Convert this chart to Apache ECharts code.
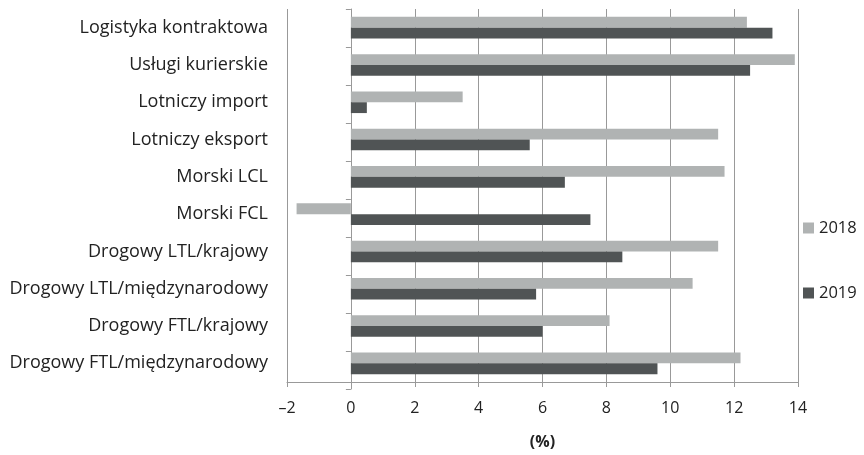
<!DOCTYPE html>
<html><head><meta charset="utf-8">
<script src="https://cdn.jsdelivr.net/npm/echarts@6/dist/echarts.min.js"></script>
<style>html,body{margin:0;padding:0;background:#fff}#c{width:864px;height:455px}</style>
</head><body><div id="c"></div>
<script>
const categories = ["Logistyka kontraktowa","Usługi kurierskie","Lotniczy import","Lotniczy eksport","Morski LCL","Morski FCL","Drogowy LTL/krajowy","Drogowy LTL/międzynarodowy","Drogowy FTL/krajowy","Drogowy FTL/międzynarodowy"];
const values2018 = [12.4, 13.9, 3.5, 11.5, 11.7, -1.7, 11.5, 10.7, 8.1, 12.2];
const values2019 = [13.2, 12.5, 0.5, 5.6, 6.7, 7.5, 8.5, 5.8, 6.0, 9.6];
const seriesNames = ["2018", "2019"];
const xName = "(%)";

const font = "'Open Sans', 'Noto Sans', sans-serif";
const gridLeft = 287, gridRight = 66, gridTop = 9, gridBottom = 66;
const xMin = -2, xMax = 14;
const zeroLeft = gridLeft + (0 - xMin) / (xMax - xMin) * (864 - gridLeft - gridRight);
const chart = echarts.init(document.getElementById('c'), null, {renderer:'canvas'});
chart.setOption({
  animation:false,
  grid:[
    {left:gridLeft, right:gridRight, top:gridTop, bottom:gridBottom},
    {left:zeroLeft, right:gridRight, top:gridTop, bottom:gridBottom}
  ],
  legend:{
    orient:'vertical', left:803, top:218, itemGap:45, itemTextGap:5,
    itemWidth:11, itemHeight:11, icon:'rect', padding:0,
    textStyle:{fontFamily:font, fontSize:16.5, color:'#222', lineHeight:20},
    data:seriesNames
  },
  xAxis:[{
    type:'value', min:xMin, max:xMax, interval:2, gridIndex:0,
    name:xName, nameLocation:'middle', nameGap:52,
    nameTextStyle:{fontFamily:font, fontSize:16, fontWeight:'bold', color:'#222'},
    axisLine:{show:true, onZero:false, lineStyle:{color:'#999', width:1}},
    axisTick:{show:true, length:5, lineStyle:{color:'#999'}},
    axisLabel:{fontFamily:font, fontSize:16, color:'#222', margin:18,
      formatter:v=>String(v).replace('-', '\u2013')},
    splitLine:{show:true, lineStyle:{color:'#999', width:1}}
  },{
    type:'value', gridIndex:1, min:0, max:1, show:false
  }],
  yAxis:[{
    type:'category', data:categories, inverse:true, gridIndex:0,
    axisLine:{show:false}, axisTick:{show:false},
    axisLabel:{fontFamily:font, fontSize:18, color:'#222', margin:19}
  },{
    type:'category', data:categories, inverse:true, gridIndex:1,
    axisLine:{show:true, onZero:false, lineStyle:{color:'#999', width:1}},
    axisTick:{show:true, length:5, lineStyle:{color:'#999'}},
    axisLabel:{show:false}
  }],
  series:[{
    name:seriesNames[0], type:'bar', data:values2018, xAxisIndex:0, yAxisIndex:0,
    itemStyle:{color:'#b0b3b3'}, barGap:'0%', barCategoryGap:'42%'
  },{
    name:seriesNames[1], type:'bar', data:values2019, xAxisIndex:0, yAxisIndex:0,
    itemStyle:{color:'#505455'}, barGap:'0%', barCategoryGap:'42%'
  }]
});
</script></body></html>
